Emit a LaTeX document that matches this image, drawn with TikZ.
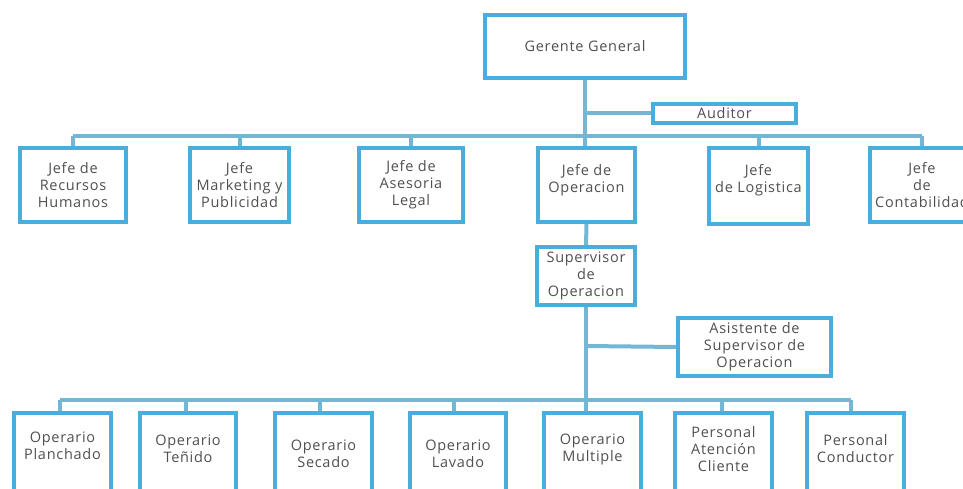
\documentclass[tikz,border=0pt]{standalone}
\usepackage{fontspec}
\setmainfont{Open Sans}[LetterSpace=5]
\definecolor{boxblue}{HTML}{4AAEDC}
\definecolor{linkblue}{HTML}{74B7D5}
\definecolor{txt}{HTML}{505050}
\begin{document}
\begin{tikzpicture}[x=1pt,y=-1pt,
  box/.style={draw=boxblue,line width=4pt,fill=white,rectangle,inner sep=0pt,
     align=center,text=txt,font=\fontsize{14.5}{17}\selectfont},
  lbl/.style={inner sep=0pt,align=center,text=txt,font=\fontsize{14.5}{17}\selectfont},
  link/.style={draw=linkblue,line width=4pt}]
\useasboundingbox (0,0) rectangle (963,489);
\clip (0,0) rectangle (963,489);
\coordinate (bus1) at (0,136);
\coordinate (bus2) at (0,400);
\coordinate (aud) at (0,113.5);
\coordinate (asi) at (0,346);
\node[box,minimum width=200pt,minimum height=63pt] (gg) at (585,46.5) {Gerente General};
\node[box,minimum width=143pt,minimum height=19pt] (au) at (724.5,113.5) {Auditor};
\node[box,minimum width=106pt,minimum height=74pt] (rh) at (73,185) {Jefe de\\Recursos\\Humanos};
\node[box,minimum width=99pt,minimum height=74pt] (mk) at (239.5,185) {Jefe\\Marketing y\\Publicidad};
\node[box,minimum width=104pt,minimum height=74pt] (al) at (411,185) {Jefe de\\Asesoria\\Legal};
\node[box,minimum width=97pt,minimum height=74pt] (op) at (586.5,185) {};
\node[lbl] (opt) at (586.5,180.5) {Jefe de\\Operacion};
\node[box,minimum width=99pt,minimum height=76pt] (lg) at (758.5,186) {};
\node[lbl] (lgt) at (758.5,180.5) {Jefe\\de Logistica};
\node[box,minimum width=104pt,minimum height=74pt] (ct) at (922,185) {Jefe\\de\\Contabilidad};
\node[box,minimum width=98pt,minimum height=58pt] (sv) at (586,276) {Supervisor\\de\\Operacion};
\node[box,minimum width=153pt,minimum height=58pt] (as) at (754.5,347) {Asistente de\\Supervisor de\\Operacion};
\node[box,minimum width=97pt,minimum height=110pt] (b1) at (62.5,468) {};
\node[box,minimum width=96pt,minimum height=110pt] (b2) at (188,468) {};
\node[box,minimum width=97pt,minimum height=110pt] (b3) at (323.5,468) {};
\node[box,minimum width=96pt,minimum height=110pt] (b4) at (458,468) {};
\node[box,minimum width=97pt,minimum height=110pt] (b5) at (592.5,468) {};
\node[box,minimum width=97pt,minimum height=110pt] (b6) at (723.5,468) {};
\node[box,minimum width=97pt,minimum height=110pt] (b7) at (855.5,468) {};
\node[lbl] (t1) at (62.5,446) {Operario\\Planchado};
\node[lbl] (t2) at (188,449) {Operario\\Teñido};
\node[lbl] (t3) at (323.5,454) {Operario\\Secado};
\node[lbl] (t4) at (458,454) {Operario\\Lavado};
\node[lbl] (t5) at (592.5,449) {Operario\\Multiple};
\node[lbl] (t6) at (723.5,449) {Personal\\Atención\\Cliente};
\node[lbl] (t7) at (855.5,449) {Personal\\Conductor};
\draw[link] (gg.south) -- (gg.south |- op.north);
\draw[link] (gg.south |- aud) -- (au.west);
\draw[link] (rh.north |- bus1) -- (ct.north |- bus1);
\foreach \n in {rh,mk,al,lg,ct} \draw[link] (\n.north |- bus1) -- (\n.north);
\draw[link] (op.south) -- (sv.north);
\draw[link] (sv.south) -- (sv.south |- b5.north);
\draw[link] (sv.south |- asi) -- (as.west);
\draw[link] ([xshift=-2.5pt]b1.north |- bus2) -- ([xshift=-4.5pt]b7.north |- bus2);
\foreach \n/\s in {b1/-2.5,b2/-2,b3/-3.5,b4/-4,b6/-1.5,b7/-4.5} \draw[link] ([xshift=\s pt]\n.north |- bus2) -- ([xshift=\s pt]\n.north);
\end{tikzpicture}
\end{document}
